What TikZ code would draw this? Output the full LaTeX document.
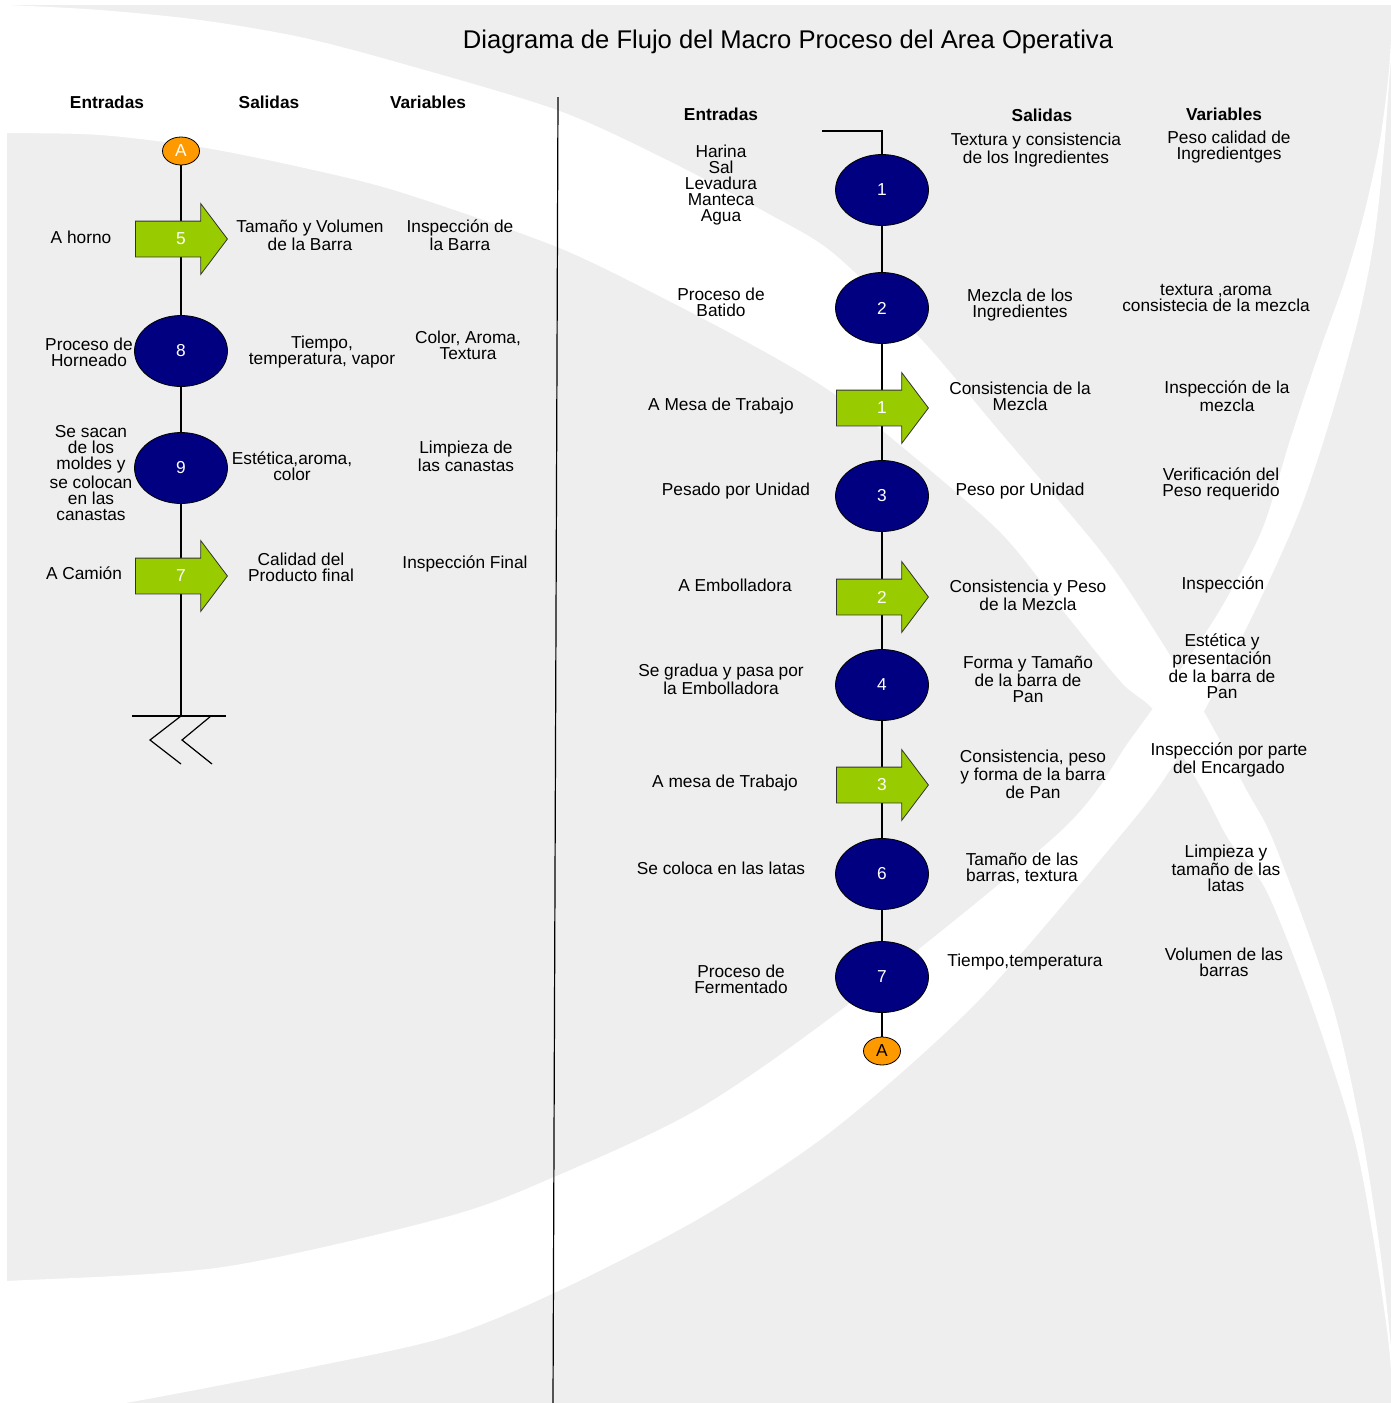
\documentclass[tikz,border=0pt]{standalone}
\usepackage{fontspec}
\setmainfont{Liberation Sans}
\usepackage{tikz}
\usetikzlibrary{shapes.geometric,%
                shapes.arrows,%
                backgrounds}

\definecolor{fondo}{HTML}{EEEEEE}
\definecolor{azul}{HTML}{000080}
\definecolor{verde}{HTML}{99CC00}
\definecolor{naranja}{HTML}{FF9900}

\tikzset{
  Operacion/.style = {draw=black,fill=azul,shape=ellipse,inner sep=0pt,
                      minimum width=46.5pt,minimum height=35.5pt,text=white,
                      font=\fontsize{8.65}{8}\selectfont},
  Transporte/.style = {draw=black!80,fill=verde,shape=single arrow,anchor=tail,
                       inner xsep=0pt,inner ysep=5.65pt,text height=6.2pt,text depth=0pt,
                       minimum width=35pt,minimum height=46pt,
                       single arrow head extend=8.75pt,single arrow tip angle=106},
  Numero/.style = {text=white,inner sep=0pt,font=\fontsize{8.65}{8}\selectfont},
  Conector/.style = {draw=black,fill=naranja,shape=ellipse,inner sep=0pt,
                     minimum width=18.5pt,minimum height=14pt,
                     font=\fontsize{8.65}{8}\selectfont},
  Texto/.style = {align=center,font=\fontsize{8.65}{8}\selectfont},
  Cabecera/.style = {font=\bfseries\fontsize{8.65}{8}\selectfont},
  linea/.style = {draw=black,line width=0.6pt}
}

\begin{document}
\begin{tikzpicture}[x=0.5pt,y=-0.5pt]
		\useasboundingbox (0,0) rectangle (1391,1403);
		\begin{pgfonlayer}{background}
			\fill[fondo] (7,5) rectangle (1391,1403);
			\begin{scope}
				\clip (7,5) rectangle (1391,1403);
				\fill[white] plot[smooth] coordinates {(-50,3) (7,5) (100,10) (200,20) (300,37) (400,63) (557,110) (667,160) (767,213) (833,253) (920,338) (1000,432) (1102,553) (1156,633) (1203,710) (1247,791) (1275,845) (1331,1000) (1361,1130) (1380,1250) (1391,1347) (1400,1450)}
					-- plot[smooth] coordinates {(1396,1450) (1389,1347) (1372,1230) (1352,1130) (1310,1000) (1266,890) (1229,840) (1203,791) (1156,713) (1122,683) (1068,617) (1001,533) (900,445) (833,393) (767,353) (667,300) (557,247) (400,192) (300,167) (200,147) (100,135) (7,133) (-50,133)} -- cycle;
				\fill[white] plot[smooth] coordinates {(-50,1283) (7,1281) (223,1267) (446,1217) (554,1177) (700,1108) (854,1000) (1062,830) (1130,740) (1180,670) (1220,610) (1262,530) (1290,440) (1320,350) (1345,280) (1365,210) (1380,140) (1389,70) (1393,0)}
					-- plot[smooth] coordinates {(1400,0) (1391,60) (1384,150) (1374,240) (1358,320) (1330,420) (1300,510) (1260,600) (1210,700) (1170,770) (1125,830) (979,1000) (833,1130) (700,1218) (554,1293) (446,1337) (312,1367) (125,1403) (0,1420)} -- cycle;
			\end{scope}
		\end{pgfonlayer}
		\draw[linea] (558,97) -- (553,1403);
		\node[font=\fontsize{12.8}{14}\selectfont] (titulo) at (788,42) {Diagrama de Flujo del Macro Proceso del Area Operativa};
		% parte izquierda
		\node[Cabecera] (entI) at (107,102) {Entradas};
		\node[Cabecera] (salI) at (269,102) {Salidas};
		\node[Cabecera] (varI) at (428,102) {Variables};
		\node[Conector,text=white] (AI) at (181,151) {A};
		\node[Transporte] (t5) at (135,239) {};
		\node[Numero] (n5) at (181,239) {5};
		\node[Operacion] (o8) at (181,351) {8};
		\node[Operacion] (o9) at (181,468) {9};
		\node[Transporte] (t7) at (135,576) {};
		\node[Numero] (n7) at (181,576) {7};
		\coordinate (fin) at (181,716);
		\begin{pgfonlayer}{background}
			\draw[linea] (AI) -- (fin);
		\end{pgfonlayer}
		\draw[linea] (fin) ++(-49,0) -- ++(94,0);
		\draw[linea] (fin) -- ++(-31,24) -- ++(31,24);
		\draw[linea] (fin) ++(30,0) -- ++(-29,24) -- ++(30,24);
		\node[Texto] (e5) at (81,237) {A horno};
		\node[Texto] (s5) at (310,235) {Tamaño y Volumen\\de la Barra};
		\node[Texto] (v5) at (460,235) {Inspección de\\la Barra};
		\node[Texto] (e8) at (89,352) {Proceso de\\Horneado};
		\node[Texto] (s8) at (322,352) {Tiempo,\\temperatura, vapor};
		\node[Texto] (v8) at (468,345) {Color, Aroma,\\Textura};
		\node[Texto] (e9) at (91,473) {Se sacan\\de los\\moldes y\\se colocan\\en las\\canastas};
		\node[Texto] (s9) at (292,466) {Estética,aroma,\\color};
		\node[Texto] (v9) at (466,456) {Limpieza de\\las canastas};
		\node[Texto] (e7) at (84,573) {A Camión};
		\node[Texto] (s7) at (301,567) {Calidad del\\Producto final};
		\node[Texto] (v7) at (465,564) {Inspección Final};
		% parte derecha
		\node[Cabecera] (entD) at (721,114) {Entradas};
		\node[Cabecera] (salD) at (1042,115) {Salidas};
		\node[Cabecera] (varD) at (1224,114) {Variables};
		\coordinate (inicio) at (822,131);
		\node[Operacion] (o1) at (882,190) {1};
		\node[Operacion] (o2) at (882,308) {2};
		\node[Transporte] (t1) at (836,408) {};
		\node[Numero] (n1) at (882,408) {1};
		\node[Operacion] (o3) at (882,496) {3};
		\node[Transporte] (t2) at (836,597) {};
		\node[Numero] (n2) at (882,597) {2};
		\node[Operacion] (o4) at (882,685) {4};
		\node[Transporte] (t3) at (836,785) {};
		\node[Numero] (n3) at (882,785) {3};
		\node[Operacion] (o6) at (882,874) {6};
		\node[Operacion] (o7) at (882,977) {7};
		\node[Conector] (AD) at (882,1051) {A};
		\draw[linea] (inicio) -| (o1);
		\begin{pgfonlayer}{background}
			\draw[linea] (o1) -- (AD);
		\end{pgfonlayer}
		\node[Texto] (e1) at (721,185) {Harina\\Sal\\Levadura\\Manteca\\Agua};
		\node[Texto] (s1) at (1036,150) {Textura y consistencia\\de los Ingredientes};
		\node[Texto] (v1) at (1229,147) {Peso calidad de\\Ingredientges};
		\node[Texto] (e2) at (721,302) {Proceso de\\Batido};
		\node[Texto] (s2) at (1020,305) {Mezcla de los\\Ingredientes};
		\node[Texto] (v2) at (1216,298) {textura ,aroma\\consistecia de la mezcla};
		\node[Texto] (et1) at (721,406) {A Mesa de Trabajo};
		\node[Texto] (st1) at (1020,396) {Consistencia de la\\Mezcla};
		\node[Texto] (vt1) at (1227,396) {Inspección de la\\mezcla};
		\node[Texto] (e3) at (736,491) {Pesado por Unidad};
		\node[Texto] (s3) at (1020,491) {Peso por Unidad};
		\node[Texto] (v3) at (1221,484) {Verificación del\\Peso requerido};
		\node[Texto] (et2) at (735,585) {A Embolladora};
		\node[Texto] (st2) at (1028,595) {Consistencia y Peso\\de la Mezcla};
		\node[Texto] (vt2) at (1223,585) {Inspección};
		\node[Texto] (e4) at (721,679) {Se gradua y pasa por\\la Embolladora};
		\node[Texto] (s4) at (1028,679) {Forma y Tamaño\\de la barra de\\Pan};
		\node[Texto] (v4) at (1222,666) {Estética y\\presentación\\de la barra de\\Pan};
		\node[Texto] (et3) at (725,783) {A mesa de Trabajo};
		\node[Texto] (st3) at (1033,774) {Consistencia, peso\\y forma de la barra\\de Pan};
		\node[Texto] (vt3) at (1229,760) {Inspección por parte\\del Encargado};
		\node[Texto] (e6) at (721,868) {Se coloca en las latas};
		\node[Texto] (s6) at (1022,868) {Tamaño de las\\barras, textura};
		\node[Texto] (v6) at (1226,868) {Limpieza y\\tamaño de las\\latas};
		\node[Texto] (e7d) at (741,979) {Proceso de\\Fermentado};
		\node[Texto] (s7d) at (1025,962) {Tiempo,temperatura};
		\node[Texto] (v7d) at (1224,962) {Volumen de las\\barras};
	\end{tikzpicture}
\end{document}
